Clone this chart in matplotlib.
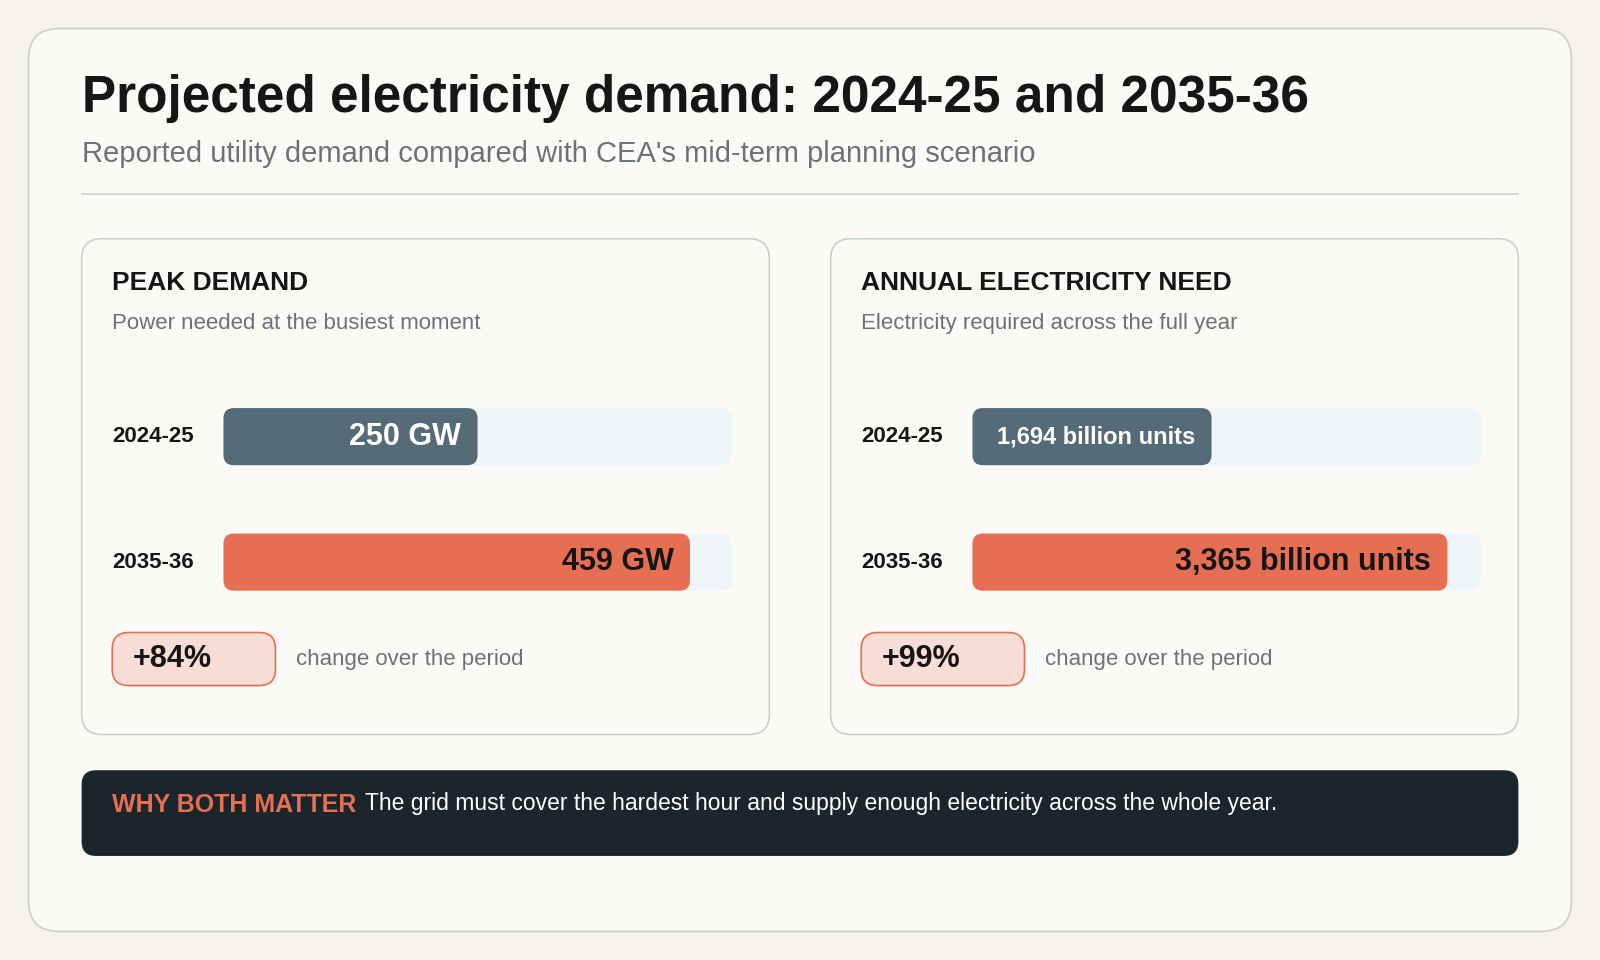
import matplotlib.pyplot as plt
from matplotlib.patches import FancyBboxPatch

plt.rcParams['font.family'] = ['Liberation Sans', 'DejaVu Sans']

# data
years = ["2024-25", "2035-36"]
peak_gw = [250, 459]
annual_bu = [1694, 3365]
peak_labels = ["250 GW", "459 GW"]
annual_labels = ["1,694 billion units", "3,365 billion units"]
changes = ["+84%", "+99%"]
panel_titles = ["PEAK DEMAND", "ANNUAL ELECTRICITY NEED"]
panel_subs = ["Power needed at the busiest moment", "Electricity required across the full year"]
scale_max = [500, 3600]

W, H = 1568, 941
fig = plt.figure(figsize=(16, 9.6), dpi=100)
fig.patch.set_facecolor("#f6f3ee")
ax = fig.add_axes([0, 0, 1, 1])
ax.set_xlim(0, W)
ax.set_ylim(H, 0)
ax.axis("off")


def rbox(x, y, w, h, r, fc, ec="none", lw=1.2, z=1):
    ax.add_patch(FancyBboxPatch((x, y), w, h, boxstyle=f"round,pad=0,rounding_size={r}",
                                fc=fc, ec=ec, lw=lw, zorder=z, mutation_aspect=1))


rbox(28, 28, 1512, 885, 30, "#fbfaf7", "#c9d0d4", 1.2)
ax.text(80, 97, "Projected electricity demand: 2024-25 and 2035-36", fontsize=37,
        fontweight="bold", color="#161616", va="center")
ax.text(80, 151, "Reported utility demand compared with CEA's mid-term planning scenario",
        fontsize=21, color="#6b7378", va="center")
ax.plot([80, 1488], [190, 190], color="#c9d0d4", lw=1.2)

dark, orange = "#566b78", "#e66f53"
for i, px in enumerate([80, 814]):
    rbox(px, 234, 674, 486, 20, "#fbfaf7", "#c9d0d4", 1.2, 2)
    ax.text(px + 30, 277, panel_titles[i], fontsize=19, fontweight="bold", color="#161616",
            va="center", zorder=3)
    ax.text(px + 30, 317, panel_subs[i], fontsize=16, color="#6b7378", va="center", zorder=3)
    vals = peak_gw if i == 0 else annual_bu
    labs = peak_labels if i == 0 else annual_labels
    tx, tw = px + 139, 498
    for j, yc in enumerate([428, 551]):
        ax.text(px + 30, yc, years[j], fontsize=16, fontweight="bold", color="#161616",
                va="center", zorder=3)
        rbox(tx, yc - 28, tw, 56, 10, "#eff5f8", z=3)
        bw = vals[j] / scale_max[i] * tw
        rbox(tx, yc - 28, bw, 56, 10, dark if j == 0 else orange, z=4)
        small = (i == 1 and j == 0)
        ax.text(tx + bw - 16, yc, labs[j], fontsize=17 if small else 22, fontweight="bold",
                color="white" if j == 0 else "#161616", ha="right", va="center", zorder=5)
    rbox(px + 30, 620, 160, 52, 16, "#f7ddd5", orange, 1.2, 3)
    ax.text(px + 50, 646, changes[i], fontsize=22, fontweight="bold", color="#161616",
            va="center", zorder=4)
    ax.text(px + 210, 646, "change over the period", fontsize=16, color="#6b7378",
            va="center", zorder=4)

rbox(80, 755, 1408, 84, 14, "#1b252c", z=2)
ax.text(110, 789, "WHY BOTH MATTER", fontsize=18, fontweight="bold", color="#e66f53",
        va="center", zorder=3)
ax.text(358, 788, "The grid must cover the hardest hour and supply enough electricity across the whole year.",
        fontsize=16.5, color="white", va="center", zorder=3)

fig.savefig("out.png", dpi=100, facecolor=fig.get_facecolor())
